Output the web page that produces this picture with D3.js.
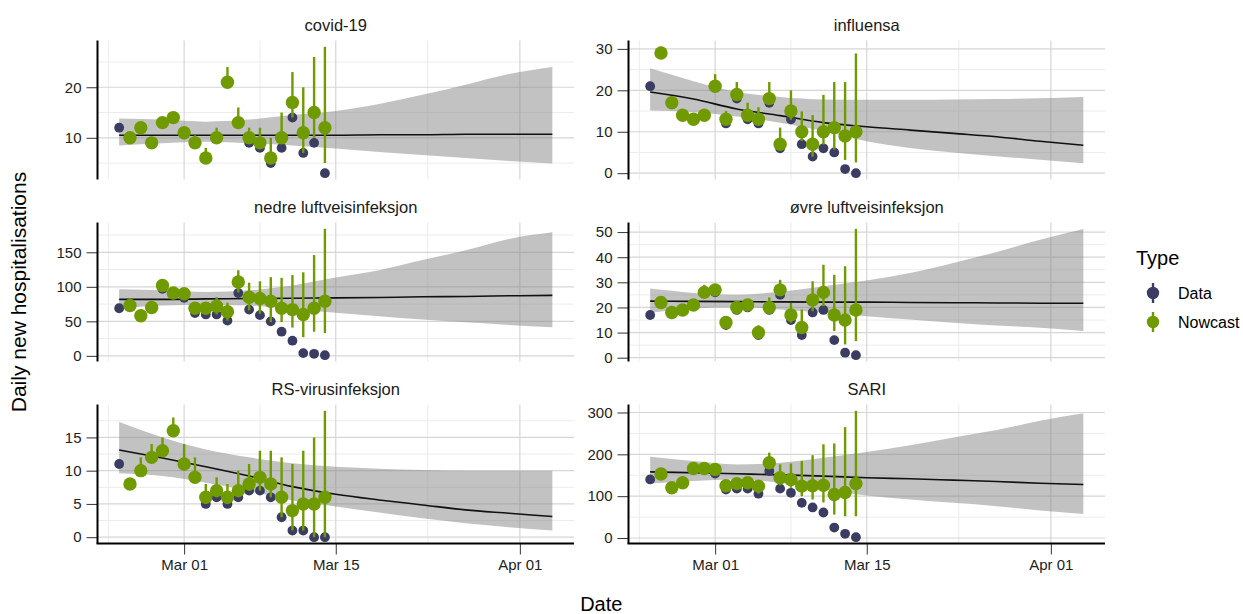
<!DOCTYPE html>
<html>
<head>
<meta charset="utf-8">
<script src="https://cdn.jsdelivr.net/npm/d3@7"></script>
<style>
  body { margin: 0; background: #fff; }
  text { font-family: "Liberation Sans", Arial, Helvetica, sans-serif; }
</style>
</head>
<body>
<svg id="chart" width="1243" height="614"></svg>
<script>
// observed days (Data from first day, Nowcast from the second)
const days = ["2024-02-24","2024-02-25","2024-02-26","2024-02-27","2024-02-28","2024-02-29",
  "2024-03-01","2024-03-02","2024-03-03","2024-03-04","2024-03-05","2024-03-06","2024-03-07",
  "2024-03-08","2024-03-09","2024-03-10","2024-03-11","2024-03-12","2024-03-13","2024-03-14"];
const ribbonDays = ["2024-02-24","2024-02-28","2024-03-03","2024-03-07","2024-03-11","2024-03-15",
  "2024-03-19","2024-03-23","2024-03-27","2024-03-31","2024-04-04"];
const xTickDays = ["2024-03-01","2024-03-15","2024-04-01"];
const xMinorDays = ["2024-02-23","2024-03-08","2024-03-23T12:00"];

// covid-19
const covidData = [12,10,12,9,13,14,11,9,6,10,21,13,9,8,5,8,14,7,9,3];
const covidNow  = [10,12,9,13,14,11,9,6,10,21,13,10,9,6,10,17,11,15,12];
const covidLo   = [10,12,9,13,14,11,8.5,6,10,21,13,9.5,8,6,9.5,14,7,10,5];
const covidHi   = [10,12,9,13,14,11,10.5,8,12,24,16,12,12,10,15,23,20,26,28];
const covidRibLo  = [8.5,8.9,9.2,8.9,8.5,7.9,7.2,6.6,6.0,5.4,4.9];
const covidRibMed = [10.5,10.5,10.5,10.5,10.5,10.5,10.6,10.6,10.7,10.7,10.7];
const covidRibHi  = [13.8,13.6,13.2,13.6,14.5,15.3,16.7,18.5,20.5,22.6,24.0];
const covidTicks = [10,20];

// influensa
const fluData = [21,29,17,14,13,14,21,12,18,13,12,17,6,13,7,4,6,5,1,0];
const fluNow  = [29,17,14,13,14,21,13,19,14,13,18,7,15,10,7,10,11,9,10];
const fluLo   = [28.5,16.5,13.5,12.5,13.5,19.6,12,18,13,12,17,5.7,12.9,7.8,4,6.9,5.7,3.2,2.6];
const fluHi   = [30.5,18.5,15,14,15,23.9,15,22,17,15.9,22,11,20,14.9,14,18.9,22,22,28.9];
const fluRibLo  = [15.1,14.7,13.7,12.2,10.2,7.7,6.1,5.0,4.1,3.25,2.4];
const fluRibMed = [19.6,17.9,15.5,13.9,12.2,11.2,10.4,9.6,8.8,7.7,6.75];
const fluRibHi  = [25.3,22.2,19.6,18.4,17.8,17.7,17.7,17.8,17.9,18.1,18.4];
const fluTicks = [0,10,20,30];

// nedre luftveisinfeksjon
const lriData = [69,73,58,70,97,91,84,62,60,60,51,91,67,59,50,35,22,4,3,1];
const lriNow  = [73,58,70,102,91,90,69,69,72,64,107,85,83,79,69,67,60,69,79];
const lriLo   = [73,58,70,97,89,84,62,60,60,51,92,66,61,49,49,41,27,35,33];
const lriHi   = [73,58,70,103,92,91,72,78,85,77,124,106,108,114,113,117,121,146,184];
const lriRibLo  = [68.2,73,74,73,68,62.3,57.4,52.6,48.7,44.8,41.4];
const lriRibMed = [81.8,81.8,82.5,83,83.5,84,84.5,85.6,86,87,87.6];
const lriRibHi  = [96.4,94.9,92.5,95,102,113.4,124,138.7,153,169.4,179];
const lriTicks = [0,50,100,150];

// øvre luftveisinfeksjon
const uriData = [17,22,18,19,21,26,26,13,19,20,9,19,25,15,9,18,19,7,2,1];
const uriNow  = [22,18,19,21,26,27,14,20,21,10,20,27,17,12,23,26,17,15,19];
const uriLo   = [22,18,19,21,26,26,13,19,20,9,19,25,13.9,9.9,18.5,20.5,10.6,5.3,6.6];
const uriHi   = [22,18,19,22,29,28,16,21,22,12.9,24,31,21.8,19.2,30.4,37,33,36.4,51.3];
const uriRibLo  = [17.9,19.6,20.1,19.2,17.9,16.5,15.2,13.9,12.8,11.9,10.6];
const uriRibMed = [22.5,22.4,22.3,22.2,22.1,22.1,22.0,21.9,21.8,21.7,21.7];
const uriRibHi  = [27.5,25.8,25.1,26.2,28.4,30.7,33.7,37.7,42.1,46.9,51.2];
const uriTicks = [0,10,20,30,40,50];

// RS-virusinfeksjon
const rsvData = [11,8,10,12,13,16,11,9,5,6,5,6,7,7,6,3,1,1,0,0];
const rsvNow  = [8,10,12,13,16,11,9,6,7,6,7,8,9,8,6,4,5,5,6];
const rsvLo   = [8,10,12,13,16,10,8.5,5,6,5,6,7,7,6,3,1,1,0,0];
const rsvHi   = [8,12,14,15,18,14,12,8,9,8,10,11,13,13,12,11,13,15,19];
const rsvRibLo  = [9.6,9.2,8.2,7.0,5.5,4.6,3.7,2.85,2.1,1.5,1.0];
const rsvRibMed = [13.1,11.9,10.6,9.2,7.6,6.45,5.6,4.85,4.1,3.6,3.1];
const rsvRibHi  = [17.3,15,13.2,12,11.1,10.6,10.3,10.1,10,10,10];
const rsvTicks = [0,5,10,15];

// SARI
const sariData = [140,153,120,132,166,166,154,116,118,118,106,160,118,108,84,73,61,25,10,2];
const sariNow  = [153,120,132,166,166,164,125,130,132,124,180,144,140,124,125,126,104,109,130];
const sariLo   = [153,120,132,166,166,154,116,118,118,106,168,126,120,100,92,85,56,52,52];
const sariHi   = [153,120,132,166,166,164,125,130,132,124,204,176,178,184,198,224,226,265,304];
const sariRibLo  = [130,136,140,132,116,101.5,92,84,76,66,57.6];
const sariRibMed = [158,156,153.6,151,148,144,141.6,138.4,135,131,128];
const sariRibHi  = [194,184,176,180,192,205.5,221.5,240,258,280,298];
const sariTicks = [0,100,200,300];

const panels = [
  {title: "covid-19", data: covidData, now: covidNow, lo: covidLo, hi: covidHi, rLo: covidRibLo, rMed: covidRibMed, rHi: covidRibHi, ticks: covidTicks},
  {title: "influensa", data: fluData, now: fluNow, lo: fluLo, hi: fluHi, rLo: fluRibLo, rMed: fluRibMed, rHi: fluRibHi, ticks: fluTicks},
  {title: "nedre luftveisinfeksjon", data: lriData, now: lriNow, lo: lriLo, hi: lriHi, rLo: lriRibLo, rMed: lriRibMed, rHi: lriRibHi, ticks: lriTicks},
  {title: "øvre luftveisinfeksjon", data: uriData, now: uriNow, lo: uriLo, hi: uriHi, rLo: uriRibLo, rMed: uriRibMed, rHi: uriRibHi, ticks: uriTicks},
  {title: "RS-virusinfeksjon", data: rsvData, now: rsvNow, lo: rsvLo, hi: rsvHi, rLo: rsvRibLo, rMed: rsvRibMed, rHi: rsvRibHi, ticks: rsvTicks},
  {title: "SARI", data: sariData, now: sariNow, lo: sariLo, hi: sariHi, rLo: sariRibLo, rMed: sariRibMed, rHi: sariRibHi, ticks: sariTicks}
];

const colDataColor = "#3b3c61";
const colNowColor = "#6f9b00";

const parse = d3.utcParse("%Y-%m-%d");
const parseAny = s => parse(s) || d3.isoParse(s + ":00Z");
const dayDates = days.map(parse);
const ribDates = ribbonDays.map(parse);

const svg = d3.select("#chart");

const colX = [[97.5, 574], [628.5, 1105]];
const rowY = [[40.5, 179.5], [222.5, 361.5], [404.5, 543.5]];

// x domain: data range padded by 5%
const xr = d3.extent(dayDates.concat(ribDates));
const pad = (xr[1] - xr[0]) * 0.05;
const xDomain = [new Date(+xr[0] - pad), new Date(+xr[1] + pad)];

panels.forEach((p, i) => {
  const col = i % 2, row = Math.floor(i / 2);
  const [x0, x1] = colX[col];
  const [y0, y1] = rowY[row];

  const x = d3.scaleUtc().domain(xDomain).range([x0, x1]);

  const allVals = p.data.concat(p.lo, p.hi, p.rLo, p.rHi);
  const ext = d3.extent(allVals);
  const ypad = (ext[1] - ext[0]) * 0.05;
  const y = d3.scaleLinear().domain([ext[0] - ypad, ext[1] + ypad]).range([y1, y0]);

  const g = svg.append("g");

  // grid
  const step = p.ticks[1] - p.ticks[0];
  const minorY = [p.ticks[0] - step / 2].concat(p.ticks.map(t => t + step / 2))
    .filter(v => v >= y.domain()[0] && v <= y.domain()[1]);
  g.selectAll(".ymin").data(minorY).enter().append("line")
    .attr("x1", x0).attr("x2", x1)
    .attr("y1", d => y(d)).attr("y2", d => y(d))
    .attr("stroke", "#ececec").attr("stroke-width", 1);
  g.selectAll(".xmin").data(xMinorDays.map(parseAny)).enter().append("line")
    .attr("x1", d => x(d)).attr("x2", d => x(d))
    .attr("y1", y0).attr("y2", y1)
    .attr("stroke", "#ececec").attr("stroke-width", 1);
  g.selectAll(".ymaj").data(p.ticks).enter().append("line")
    .attr("x1", x0).attr("x2", x1)
    .attr("y1", d => y(d)).attr("y2", d => y(d))
    .attr("stroke", "#d6d6d6").attr("stroke-width", 1.2);
  g.selectAll(".xmaj").data(xTickDays.map(parse)).enter().append("line")
    .attr("x1", d => x(d)).attr("x2", d => x(d))
    .attr("y1", y0).attr("y2", y1)
    .attr("stroke", "#d6d6d6").attr("stroke-width", 1.2);

  // ribbon + median
  const rib = ribDates.map((d, k) => ({date: d, lo: p.rLo[k], med: p.rMed[k], hi: p.rHi[k]}));
  g.append("path").datum(rib)
    .attr("d", d3.area().curve(d3.curveMonotoneX)
      .x(d => x(d.date)).y0(d => y(d.lo)).y1(d => y(d.hi)))
    .attr("fill", "#808080").attr("fill-opacity", 0.48);
  g.append("path").datum(rib)
    .attr("d", d3.line().curve(d3.curveMonotoneX).x(d => x(d.date)).y(d => y(d.med)))
    .attr("fill", "none").attr("stroke", "#111").attr("stroke-width", 1.6);

  // Data points
  g.selectAll(".dat").data(p.data).enter().append("circle")
    .attr("cx", (d, k) => x(dayDates[k])).attr("cy", d => y(d))
    .attr("r", 4.9).attr("fill", colDataColor);

  // Nowcast pointranges
  const nc = p.now.map((v, k) => ({date: dayDates[k + 1], v: v, lo: p.lo[k], hi: p.hi[k]}));
  const ng = g.selectAll(".nc").data(nc).enter().append("g");
  ng.append("line")
    .attr("x1", d => x(d.date)).attr("x2", d => x(d.date))
    .attr("y1", d => y(d.lo)).attr("y2", d => y(d.hi))
    .attr("stroke", colNowColor).attr("stroke-width", 2.4);
  ng.append("circle")
    .attr("cx", d => x(d.date)).attr("cy", d => y(d.v))
    .attr("r", 6.7).attr("fill", colNowColor);

  // y axis
  const ya = g.append("g").attr("transform", `translate(${x0},0)`)
    .call(d3.axisLeft(y).tickValues(p.ticks).tickSize(11).tickPadding(5));
  ya.select(".domain").remove();
  ya.selectAll(".tick line").attr("stroke", "#333").attr("stroke-width", 1);
  ya.selectAll(".tick text").attr("fill", "#222").style("font-size", "15px");
  g.append("line").attr("x1", x0).attr("x2", x0).attr("y1", y0).attr("y2", y1)
    .attr("stroke", "#000").attr("stroke-width", 2);

  // x axis on bottom row
  if (row === 2) {
    const xa = g.append("g").attr("transform", `translate(0,${y1})`)
      .call(d3.axisBottom(x).tickValues(xTickDays.map(parse))
        .tickFormat(d3.utcFormat("%b %d")).tickSize(11).tickPadding(5));
    xa.select(".domain").remove();
    xa.selectAll(".tick line").attr("stroke", "#333").attr("stroke-width", 1);
    xa.selectAll(".tick text").attr("fill", "#222").style("font-size", "15px");
    g.append("line").attr("x1", x0 - 1).attr("x2", x1).attr("y1", y1).attr("y2", y1)
      .attr("stroke", "#000").attr("stroke-width", 2);
  }

  // facet title
  g.append("text").attr("x", (x0 + x1) / 2).attr("y", y0 - 10)
    .attr("text-anchor", "middle").attr("fill", "#1a1a1a")
    .style("font-size", "16.5px").text(p.title);
});

// axis titles
svg.append("text").attr("x", (colX[0][0] + colX[1][1]) / 2).attr("y", 611)
  .attr("text-anchor", "middle").attr("fill", "#000").style("font-size", "20px").text("Date");
svg.append("text").attr("transform", "translate(26,292) rotate(-90)")
  .attr("text-anchor", "middle").attr("fill", "#000").style("font-size", "21px")
  .text("Daily new hospitalisations");

// legend
const types = ["Data", "Nowcast"];
const typeColors = [colDataColor, colNowColor];
const leg = svg.append("g");
leg.append("text").attr("x", 1136).attr("y", 265).attr("fill", "#000")
  .style("font-size", "20px").text("Type");
const li = leg.selectAll(".li").data(types).enter().append("g")
  .attr("transform", (d, k) => `translate(1153,${293 + k * 29})`);
li.append("line").attr("y1", -10).attr("y2", 10)
  .attr("stroke", (d, k) => typeColors[k]).attr("stroke-width", 2.4);
li.append("circle").attr("r", 6.2).attr("fill", (d, k) => typeColors[k]);
li.append("text").attr("x", 25).attr("y", 5.5).attr("fill", "#000")
  .style("font-size", "16px").text(d => d);
</script>
</body>
</html>
